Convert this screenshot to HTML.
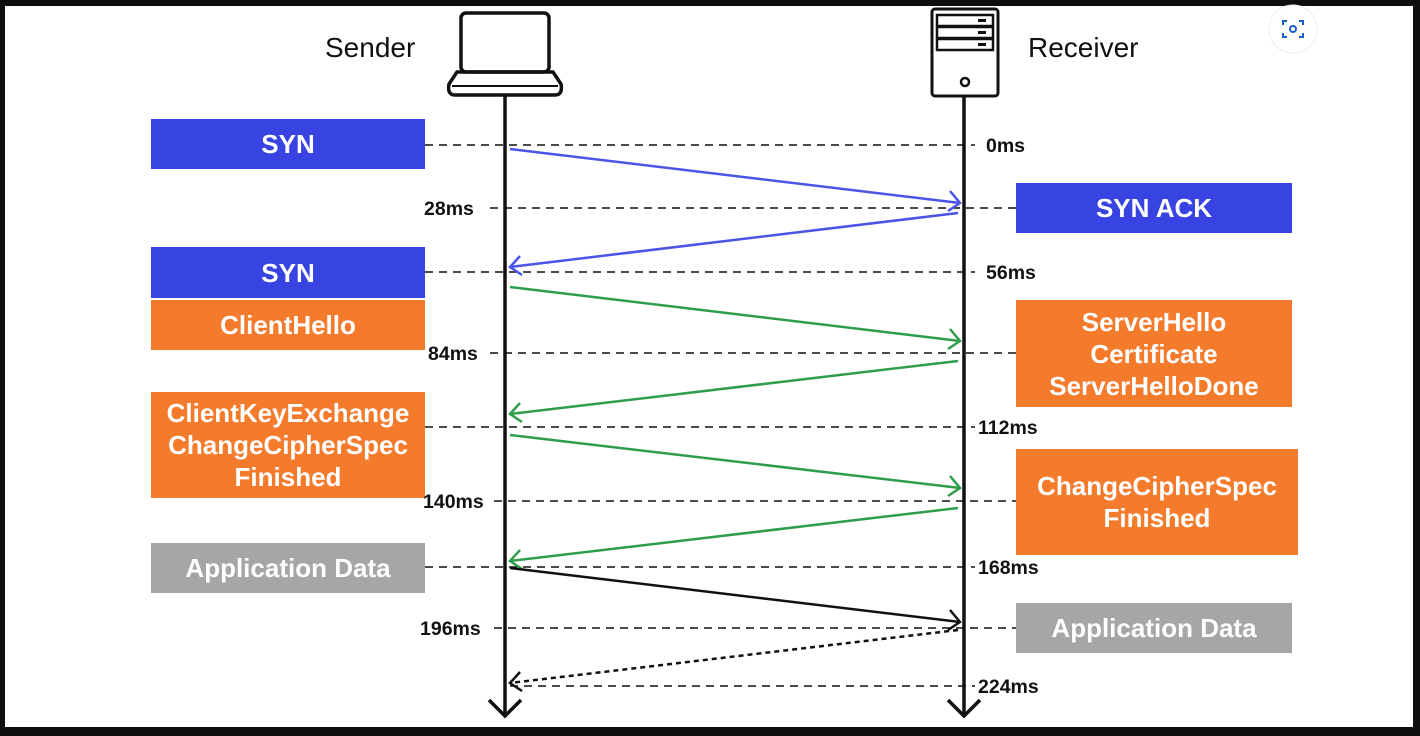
<!DOCTYPE html>
<html><head><meta charset="utf-8"><style>
html,body{margin:0;padding:0;background:#0e0e0e;}
.page{position:relative;width:1420px;height:736px;background:#0e0e0e;overflow:hidden;font-family:"Liberation Sans",sans-serif;}
.white{position:absolute;left:5px;top:6px;width:1408px;height:721px;background:#fff;}
.box{position:absolute;color:#fff;font-weight:bold;font-size:26px;display:flex;align-items:center;justify-content:center;text-align:center;line-height:32px;white-space:nowrap;}
.blue{background:#3744e2;}
.orange{background:#f47a2c;}
.gray{background:#a6a6a6;}
.t{position:absolute;font-weight:bold;font-size:19.5px;color:#111;line-height:20px;}
.h{position:absolute;font-size:28px;color:#111;}
svg{position:absolute;left:0;top:0;}
</style></head><body><div class="page">
<div class="white"></div>
<svg width="1420" height="736">
<g stroke="#111" stroke-width="1.6" stroke-dasharray="8,6">
<line x1="425" y1="145" x2="975" y2="145"/>
<line x1="490" y1="208" x2="1016" y2="208"/>
<line x1="425" y1="272" x2="975" y2="272"/>
<line x1="490" y1="353" x2="1016" y2="353"/>
<line x1="425" y1="427" x2="975" y2="427"/>
<line x1="494" y1="501" x2="1016" y2="501"/>
<line x1="425" y1="567" x2="975" y2="567"/>
<line x1="494" y1="628" x2="1016" y2="628"/>
<line x1="510" y1="686" x2="975" y2="686"/>
</g>
<g stroke="#111" stroke-width="3.5" fill="none">
<line x1="505" y1="95" x2="505" y2="714"/>
<line x1="964" y1="96" x2="964" y2="714"/>
<polyline points="489,700 505,716 521,700"/>
<polyline points="948,700 964,716 980,700"/>
</g>
<!-- laptop -->
<g stroke="#111" stroke-width="3.5" fill="none">
<rect x="461" y="13" width="88" height="59" rx="5"/>
<path d="M457 72 L553 72 L561 84 Q563 95 555 95 L455 95 Q447 95 449 84 Z"/>
<line x1="452" y1="86" x2="558" y2="86" stroke-width="2"/>
</g>
<!-- server -->
<g stroke="#111" fill="none">
<rect x="932" y="9" width="66" height="87" rx="3" stroke-width="3"/>
<rect x="937" y="15" width="56" height="11" stroke-width="2.5"/>
<rect x="937" y="27" width="56" height="11" stroke-width="2.5"/>
<rect x="937" y="39" width="56" height="11" stroke-width="2.5"/>
<circle cx="965" cy="82" r="4" stroke-width="2.5"/>
</g>
<g fill="#111"><rect x="978" y="19" width="8" height="3"/><rect x="978" y="31" width="8" height="3"/><rect x="978" y="43" width="8" height="3"/></g>
<!-- arrows -->
<g fill="none" stroke-width="2.5">
<g stroke="#4a55e8">
<line x1="510" y1="149" x2="960" y2="203"/><polyline points="950,191 960,203 948,211"/>
<line x1="958" y1="213" x2="510" y2="267"/><polyline points="520,256 510,267 522,275"/>
</g>
<g stroke="#2f9e4b">
<line x1="510" y1="287" x2="960" y2="341"/><polyline points="950,329 960,341 948,349"/>
<line x1="958" y1="361" x2="510" y2="414"/><polyline points="520,403 510,414 522,422"/>
<line x1="510" y1="435" x2="960" y2="488"/><polyline points="950,476 960,488 948,496"/>
<line x1="958" y1="508" x2="510" y2="561"/><polyline points="520,550 510,561 522,569"/>
</g>
<g stroke="#111">
<line x1="510" y1="568" x2="960" y2="622"/><polyline points="950,610 960,622 948,630"/>
<line x1="958" y1="630" x2="510" y2="683" stroke-dasharray="5,4"/><polyline points="520,672 510,683 522,691"/>
</g>
</g>
<!-- camera button -->
<circle cx="1293" cy="29" r="24" fill="#fff" stroke="#eee"/>
<g stroke="#1a5fc8" stroke-width="2" fill="none">
<path d="M1283 25 v-4 h4 M1299 21 h4 v4 M1303 33 v4 h-4 M1287 37 h-4 v-4"/>
<circle cx="1293" cy="29" r="3"/>
</g>
</svg>
<div class="h" style="left:325px;top:32px;">Sender</div>
<div class="h" style="left:1028px;top:32px;">Receiver</div>

<div class="box blue" style="left:151px;top:119px;width:274px;height:50px;">SYN</div>
<div class="box blue" style="left:1016px;top:183px;width:276px;height:50px;">SYN ACK</div>
<div class="box blue" style="left:151px;top:247px;width:274px;height:51px;">SYN</div>
<div class="box orange" style="left:151px;top:300px;width:274px;height:50px;">ClientHello</div>
<div class="box orange" style="left:1016px;top:300px;width:276px;height:107px;">ServerHello<br>Certificate<br>ServerHelloDone</div>
<div class="box orange" style="left:151px;top:392px;width:274px;height:106px;">ClientKeyExchange<br>ChangeCipherSpec<br>Finished</div>
<div class="box orange" style="left:1016px;top:449px;width:282px;height:106px;">ChangeCipherSpec<br>Finished</div>
<div class="box gray" style="left:151px;top:543px;width:274px;height:50px;">Application Data</div>
<div class="box gray" style="left:1016px;top:603px;width:276px;height:50px;">Application Data</div>

<div class="t" style="left:986px;top:136px;">0ms</div>
<div class="t" style="left:424px;top:199px;">28ms</div>
<div class="t" style="left:986px;top:263px;">56ms</div>
<div class="t" style="left:428px;top:344px;">84ms</div>
<div class="t" style="left:978px;top:418px;">112ms</div>
<div class="t" style="left:423px;top:492px;">140ms</div>
<div class="t" style="left:978px;top:558px;">168ms</div>
<div class="t" style="left:420px;top:619px;">196ms</div>
<div class="t" style="left:978px;top:677px;">224ms</div>
</div></body></html>
